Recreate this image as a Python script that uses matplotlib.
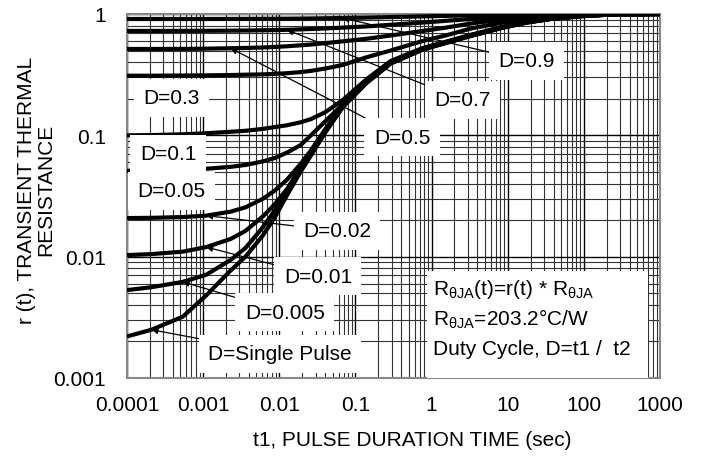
import numpy as np
import matplotlib
matplotlib.use("Agg")
import matplotlib.pyplot as plt
from matplotlib.ticker import LogLocator, FuncFormatter, NullFormatter
from matplotlib.patches import Rectangle

plt.rcParams['font.family'] = ['Liberation Sans', 'DejaVu Sans']
plt.rcParams['mathtext.fontset'] = 'custom'
plt.rcParams['mathtext.rm'] = 'Liberation Sans'
plt.rcParams['mathtext.it'] = 'Liberation Sans:italic'

# ================================================================
# Data
# ================================================================
T = [1e-4, 2.1e-4, 5.4e-4, 1.1e-3, 2.3e-3, 3.6e-3, 6.1e-3, 8.7e-3, 1.26e-2, 1.9e-2, 2.6e-2, 4e-2,
     6.8e-2, 0.14, 0.29, 0.77, 1.6, 3.3, 8.6, 18, 37, 96, 200, 1000]

r_single = [0.0022, 0.0025, 0.0032, 0.0048, 0.0077, 0.0100, 0.0150, 0.021, 0.032, 0.050, 0.068, 0.105,
            0.17, 0.27, 0.39, 0.51, 0.58, 0.66, 0.77, 0.85, 0.91, 0.96, 0.985, 1.0]
r_d0005 = [0.0053, 0.0056, 0.0062, 0.0071, 0.0094, 0.0118, 0.0175, 0.024, 0.034, 0.052, 0.070, 0.107,
           0.172, 0.272, 0.392, 0.512, 0.582, 0.662, 0.772, 0.852, 0.912, 0.962, 0.986, 1.0]
r_d001 = [0.0103, 0.0105, 0.0110, 0.0120, 0.0140, 0.0163, 0.0215, 0.027, 0.036, 0.054, 0.072, 0.109,
          0.174, 0.274, 0.394, 0.514, 0.584, 0.664, 0.774, 0.854, 0.913, 0.963, 0.986, 1.0]
r_d002 = [0.0208, 0.0209, 0.0212, 0.0218, 0.0235, 0.0255, 0.030, 0.035, 0.043, 0.058, 0.075, 0.112,
          0.177, 0.277, 0.396, 0.516, 0.586, 0.666, 0.776, 0.856, 0.914, 0.964, 0.987, 1.0]
r_d005 = [0.051, 0.0512, 0.052, 0.053, 0.055, 0.057, 0.061, 0.065, 0.072, 0.083, 0.10, 0.13,
          0.18, 0.285, 0.40, 0.52, 0.59, 0.67, 0.78, 0.86, 0.916, 0.965, 0.987, 1.0]
r_d01 = [0.100, 0.1005, 0.102, 0.104, 0.107, 0.109, 0.113, 0.117, 0.121, 0.128, 0.136, 0.155,
         0.195, 0.29, 0.41, 0.525, 0.595, 0.675, 0.785, 0.862, 0.918, 0.966, 0.988, 1.0]
r_d03 = [0.31, 0.31, 0.311, 0.312, 0.314, 0.316, 0.318, 0.321, 0.325, 0.332, 0.34, 0.355,
         0.38, 0.44, 0.50, 0.60, 0.67, 0.76, 0.85, 0.91, 0.95, 0.98, 0.993, 1.0]
r_d05 = [0.515, 0.515, 0.516, 0.518, 0.522, 0.525, 0.53, 0.535, 0.542, 0.552, 0.56, 0.575,
         0.595, 0.625, 0.665, 0.725, 0.775, 0.835, 0.905, 0.945, 0.972, 0.99, 0.997, 1.0]
r_d07 = [0.725, 0.725, 0.726, 0.727, 0.729, 0.731, 0.734, 0.737, 0.741, 0.747, 0.752, 0.76,
         0.772, 0.79, 0.815, 0.85, 0.88, 0.91, 0.95, 0.972, 0.986, 0.995, 0.999, 1.0]
r_d09 = [0.91, 0.91, 0.91, 0.91, 0.911, 0.912, 0.913, 0.914, 0.915, 0.917, 0.919, 0.922,
         0.927, 0.934, 0.943, 0.956, 0.965, 0.975, 0.986, 0.993, 0.997, 0.999, 1.0, 1.0]

CURVES = [r_single, r_d0005, r_d001, r_d002, r_d005, r_d01, r_d03, r_d05, r_d07, r_d09]

# label text, curve (None = no arrow), index into T for arrow tip, text pos (axes fraction)
LABELS = [("D=0.9",          r_d09,    12, (0.750, 0.871)),
          ("D=0.7",          r_d07,     8, (0.630, 0.764)),
          ("D=0.5",          r_d05,     4, (0.516, 0.662)),
          ("D=0.3",          None,   None, (0.083, 0.770)),
          ("D=0.1",          None,   None, (0.077, 0.616)),
          ("D=0.05",         None,   None, (0.083, 0.514)),
          ("D=0.02",         r_d002,    3, (0.394, 0.404)),
          ("D=0.01",         r_d001,    3, (0.358, 0.280)),
          ("D=0.005",        r_d0005,   2, (0.296, 0.181)),
          ("D=Single Pulse", r_single,  1, (0.287, 0.066))]

INFO = [r"R$_{\mathrm{\theta JA}}$(t)=r(t) * R$_{\mathrm{\theta JA}}$",
        r"R$_{\mathrm{\theta JA}}$=203.2°C/W",
        "Duty Cycle, D=t1 /  t2"]

FS = 15

# ================================================================
# Figure
# ================================================================
fig = plt.figure(figsize=(7.01, 4.60), dpi=100)
ax = fig.add_axes([127 / 701, 1 - 379 / 460, 533 / 701, 364 / 460])
ax.set_xscale("log"); ax.set_yscale("log")
ax.set_xlim(1e-4, 1e3); ax.set_ylim(1e-3, 1)

ax.xaxis.set_major_locator(LogLocator(base=10, numticks=20))
ax.yaxis.set_major_locator(LogLocator(base=10, numticks=20))
ax.xaxis.set_minor_locator(LogLocator(base=10, subs=np.arange(2, 10), numticks=20))
ax.yaxis.set_minor_locator(LogLocator(base=10, subs=np.arange(2, 10), numticks=20))
fmt = FuncFormatter(lambda v, _: f"{v:g}")
ax.xaxis.set_major_formatter(fmt); ax.yaxis.set_major_formatter(fmt)
ax.xaxis.set_minor_formatter(NullFormatter()); ax.yaxis.set_minor_formatter(NullFormatter())
ax.tick_params(which="both", length=0, labelsize=FS)
ax.tick_params(axis="x", pad=12)
ax.tick_params(axis="y", pad=15)
ax.grid(which="major", color="black", lw=1.0)
ax.grid(which="minor", color="#333333", lw=0.8)
ax.set_axisbelow(True)
for s in ax.spines.values():
    s.set_color("#888888"); s.set_linewidth(1.5)

for c in CURVES:
    ax.plot(T, c, color="black", lw=3.0, solid_capstyle="butt", zorder=3)

box = dict(boxstyle="square,pad=0.45", fc="white", ec="none")
for text, curve, k, pos in LABELS:
    if curve is None:
        ax.text(*pos, text, transform=ax.transAxes, fontsize=FS, ha="center", va="center",
                bbox=box, zorder=5)
    else:
        ax.annotate(text, xy=(T[k], curve[k]), xycoords="data",
                    xytext=pos, textcoords="axes fraction", fontsize=FS,
                    ha="center", va="center", bbox=box, zorder=5,
                    arrowprops=dict(arrowstyle="-|>", color="black", lw=0.9,
                                    mutation_scale=9, shrinkA=0, shrinkB=0))

ax.add_patch(Rectangle((0.563, 0.0), 0.415, 0.294, transform=ax.transAxes,
                       fc="white", ec="none", zorder=4))
for i, line in enumerate(INFO):
    ax.text(0.574, 0.247 - i * 0.083, line, transform=ax.transAxes, fontsize=FS,
            ha="left", va="center", zorder=5)

fig.text(36 / 701, 1 - 190 / 460, "r (t), TRANSIENT THERMAL\nRESISTANCE", rotation=90,
         ha="center", va="center", fontsize=FS, multialignment="center", linespacing=1.0)
fig.text(412 / 701, 1 - 441 / 460, "t1, PULSE DURATION TIME (sec)",
         ha="center", va="center", fontsize=FS)

fig.savefig("out.png", dpi=100)
